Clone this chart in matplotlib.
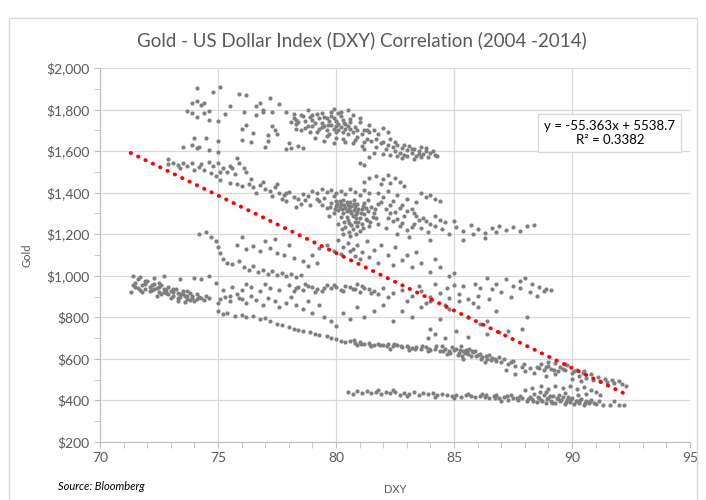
import numpy as np
import matplotlib
matplotlib.use('Agg')
import matplotlib.pyplot as plt
from matplotlib.ticker import MultipleLocator, FuncFormatter
from matplotlib.patches import Rectangle

plt.rcParams['font.family'] = ['Lato', 'DejaVu Sans']

# (DXY, Gold) pairs, grouped by the visible bands

# lowest band, gold ~ $400
low_band = [
    (80.5, 440), (80.7, 432), (80.9, 446), (81.1, 438), (81.3, 445), (81.5, 436), (81.7, 441), (81.9, 430),
    (82.1, 443), (82.3, 435), (82.5, 440), (82.7, 428), (82.9, 437), (83.1, 432), (83.3, 440), (83.5, 426),
    (83.7, 434), (83.9, 429), (84.1, 436), (84.3, 424), (84.5, 431), (84.7, 427), (84.9, 420), (85.1, 428),
    (85.3, 418), (85.5, 425), (85.7, 421), (85.9, 415), (86.1, 423), (86.3, 417), (86.5, 412), (86.7, 420),
    (86.9, 410), (87.1, 416), (87.3, 404), (87.5, 413), (87.7, 400), (87.9, 410), (88.1, 396), (88.3, 406),
    (88.5, 392), (88.7, 402), (88.9, 389), (89.1, 398), (89.3, 386), (89.5, 395), (89.7, 384), (89.9, 392),
    (90.1, 382), (90.3, 390), (90.5, 380), (90.7, 386), (91.0, 383), (91.3, 378), (91.6, 380), (92.0, 376),
    (87.4, 425), (87.8, 420), (88.2, 418), (88.4, 430), (88.6, 412), (88.8, 425), (89.0, 410), (89.2, 420),
    (89.4, 405), (89.6, 415), (89.8, 400), (90.0, 410), (90.2, 398), (90.4, 405), (90.6, 395), (90.8, 400),
    (88.0, 450), (88.3, 462), (88.7, 470), (89.0, 455), (89.3, 468), (89.6, 460), (89.9, 470), (90.2, 455),
    (90.5, 465), (90.8, 450), (91.0, 440), (91.2, 425), (88.9, 440), (89.7, 435), (90.6, 430), (86.2, 432),
    (86.8, 428), (85.0, 410), (84.2, 415), (83.0, 420), (81.8, 452), (82.4, 450), (85.6, 433), (87.0, 395),
    (91.8, 395), (92.2, 380),
]
low_core = [
    (88.15, 405), (88.35, 398), (88.55, 415), (88.75, 395), (88.95, 405), (89.15, 390), (89.35, 412),
    (89.55, 400), (89.75, 392), (89.95, 405), (90.15, 395), (90.35, 402), (90.55, 388), (90.75, 395),
    (90.95, 390), (91.15, 395), (89.05, 420), (89.45, 425), (89.85, 418), (90.25, 425), (88.65, 440),
    (87.65, 410), (87.25, 420), (86.75, 414), (86.35, 425),
]

# descending band from ~$830 at DXY 75 down to ~$470 at DXY 92
lower_mid = [
    (75.0, 830), (75.2, 815), (75.4, 822), (75.7, 808), (76.0, 812), (76.2, 800), (76.5, 805), (76.8, 792),
    (77.0, 798), (77.2, 780), (77.5, 770), (77.7, 762), (78.0, 752), (78.2, 745), (78.4, 740), (78.6, 733),
    (78.9, 728), (79.1, 722), (79.3, 715), (79.6, 710), (79.8, 702), (80.0, 695), (80.2, 688), (80.4, 682),
    (80.6, 686), (80.8, 678), (81.0, 680), (81.2, 672), (81.4, 676), (81.6, 668), (81.8, 674), (82.0, 665),
    (82.2, 670), (82.4, 660), (82.6, 668), (82.8, 655), (83.0, 662), (83.2, 652), (83.4, 658), (83.6, 648),
    (83.8, 655), (84.0, 645), (84.2, 650), (84.4, 640), (84.6, 648), (84.8, 636), (85.0, 642), (85.2, 630),
    (85.4, 638), (85.6, 625), (85.8, 632), (86.0, 618), (86.2, 610), (86.4, 600), (86.6, 605), (86.8, 590),
    (87.0, 584), (87.3, 575), (87.6, 568), (87.9, 560), (88.2, 555), (88.5, 560), (88.8, 548), (89.1, 552),
    (89.4, 540), (89.7, 545), (90.0, 530), (90.3, 520), (90.6, 510), (90.9, 500), (91.2, 495), (91.5, 490),
    (91.8, 485), (92.1, 478), (92.3, 470),
    (80.9, 668), (81.5, 660), (82.3, 650), (83.1, 645), (83.9, 638), (84.5, 660), (84.9, 655), (85.1, 650),
    (85.3, 660), (85.5, 645), (85.7, 612), (85.9, 640), (86.1, 625), (86.5, 620), (86.9, 610), (84.7, 625),
    (85.4, 600), (86.3, 585), (87.1, 600), (87.5, 590), (88.0, 540), (88.4, 530), (88.7, 575), (89.0, 565),
    (89.5, 560), (89.8, 570), (90.2, 548), (90.5, 540), (90.8, 525), (91.1, 515), (91.4, 505), (91.7, 500),
    (92.0, 495), (90.0, 505), (90.4, 495), (89.3, 525), (88.9, 520), (87.6, 525), (87.2, 548),
    (84.0, 745), (84.2, 720), (84.6, 700), (85.1, 735), (83.9, 700), (86.1, 770), (86.4, 720), (85.6, 705),
    (86.9, 730), (87.3, 735), (87.9, 745), (88.1, 800),
]
lower_mid_core = [
    (85.15, 620), (85.35, 615), (85.55, 635), (85.75, 640), (85.95, 615), (86.15, 600), (86.35, 615),
    (86.55, 595), (86.75, 600), (85.25, 645), (85.45, 628), (85.65, 650), (84.85, 630), (84.55, 640),
    (84.25, 660), (83.95, 648), (83.65, 660), (83.35, 650), (83.05, 655), (82.75, 662), (82.45, 672),
    (82.15, 660), (81.85, 665), (81.45, 668), (81.05, 672), (80.75, 690), (89.25, 545), (89.6, 550),
    (90.1, 540), (90.45, 530), (88.6, 555), (88.9, 560), (87.95, 575), (87.4, 585), (89.0, 585),
    (89.3, 580), (89.7, 575),
]

# scattered points between $750 and $900
mid_band = [
    (75.0, 870), (75.3, 900), (75.5, 880), (75.8, 910), (76.0, 890), (76.2, 870), (76.4, 905), (76.6, 885),
    (76.9, 860), (77.1, 895), (77.4, 880), (77.6, 850), (77.9, 870), (78.1, 900), (78.3, 860), (78.6, 840),
    (78.8, 880), (79.0, 820), (79.3, 860), (79.5, 800), (79.8, 780), (80.0, 760), (80.3, 820), (80.6, 790),
    (80.9, 850), (81.2, 800), (81.6, 830), (82.0, 860), (82.4, 780), (82.8, 830), (83.2, 800), (83.6, 850),
    (84.0, 880), (84.4, 790), (84.8, 840), (85.2, 880), (85.6, 800), (86.0, 850), (86.4, 780), (86.8, 830),
]

# band around $900 - $1,000
band_900 = [
    (71.3, 920), (71.4, 1000), (71.5, 965), (71.6, 940), (71.7, 995), (71.8, 955), (71.9, 935), (72.0, 975),
    (72.1, 948), (72.2, 930), (72.3, 960), (72.4, 942), (72.5, 920), (72.6, 955), (72.7, 935), (72.8, 915),
    (72.9, 945), (73.0, 925), (73.1, 905), (73.2, 935), (73.3, 915), (73.4, 900), (73.5, 925), (73.6, 905),
    (73.7, 890), (73.8, 915), (73.9, 895), (74.0, 880), (74.2, 900), (74.4, 885), (71.6, 985), (71.9, 960),
    (72.2, 955), (72.5, 945), (72.8, 930), (73.1, 920), (73.4, 910), (73.7, 905), (74.1, 890), (72.6, 910),
    (73.0, 895), (73.3, 880), (73.6, 875), (74.6, 895), (75.1, 890), (75.5, 905), (75.9, 895), (72.3, 990),
    (72.7, 1000), (74.0, 990), (74.3, 985), (74.6, 1000), (74.9, 965), (73.4, 985),
    (75.2, 930), (75.6, 945), (76.0, 930), (76.4, 945), (76.8, 925), (77.2, 940), (77.6, 930), (78.0, 955),
    (78.4, 945), (78.8, 950), (79.2, 935), (79.6, 955), (80.0, 945), (80.4, 950), (80.8, 935), (81.2, 940),
    (81.6, 925), (82.0, 940), (82.4, 915), (82.8, 930), (83.2, 905), (83.6, 925), (84.0, 900), (84.4, 915),
    (84.8, 895), (85.2, 910), (85.6, 890), (86.0, 905), (78.2, 925), (78.6, 930), (79.0, 945), (79.4, 925),
    (79.8, 940), (80.2, 930), (80.6, 945), (81.0, 920), (81.4, 935), (82.2, 900), (83.0, 880), (83.8, 870),
    (84.6, 860), (77.0, 960), (76.2, 960), (80.9, 960), (81.8, 910),
    (86.4, 990), (86.8, 960), (87.2, 985), (87.5, 950), (87.8, 975), (88.0, 990), (88.3, 960), (88.6, 945),
    (88.9, 935), (89.1, 930), (86.6, 935), (87.0, 920), (87.4, 900), (87.8, 940), (88.2, 920), (88.5, 905),
    (85.4, 950), (85.9, 960), (86.1, 940), (84.7, 940), (85.0, 955), (84.2, 960), (83.5, 950), (88.8, 925),
    (86.5, 890), (85.8, 870),
]
band_900_core = [
    (71.5, 945), (71.7, 930), (71.9, 975), (72.1, 925), (72.3, 935), (72.5, 965), (72.7, 920), (72.9, 910),
    (73.1, 935), (73.3, 895), (73.5, 910), (73.7, 925), (73.9, 905), (74.1, 910), (74.3, 895), (71.4, 955),
    (71.8, 920), (72.4, 905), (73.8, 885), (74.5, 905), (78.3, 940), (78.7, 960), (79.1, 920), (79.5, 940),
    (79.9, 955), (80.3, 925), (80.7, 935), (81.1, 950), (81.5, 915),
]

# band around $1,000 - $1,200
band_1100 = [
    (74.2, 1200), (74.5, 1210), (74.7, 1185), (74.9, 1165), (75.0, 1140), (75.1, 1110), (75.2, 1080),
    (75.4, 1060), (75.6, 1055), (75.9, 1070), (76.1, 1040), (76.3, 1030), (76.5, 1045), (76.7, 1020),
    (76.9, 1030), (77.1, 1010), (77.3, 1025), (77.5, 1005), (77.7, 1015), (77.9, 1000), (78.1, 1010),
    (78.3, 995), (78.5, 1005), (75.8, 1150), (76.2, 1130), (76.5, 1145), (76.8, 1120), (77.2, 1135),
    (77.5, 1110), (77.8, 1100), (78.2, 1085), (78.6, 1070), (79.0, 1100), (79.3, 1135), (79.6, 1150),
    (79.9, 1120), (80.1, 1170), (80.3, 1140), (80.5, 1160), (80.7, 1130), (80.9, 1150), (81.1, 1115),
    (81.3, 1165), (81.6, 1125), (81.9, 1150), (82.2, 1100), (82.5, 1140), (80.2, 1105), (80.6, 1120),
    (80.8, 1095), (81.0, 1080), (81.4, 1090), (81.8, 1060), (82.4, 1050), (82.8, 1075), (83.2, 1040),
    (83.6, 1060), (84.0, 1020), (84.4, 1040), (84.8, 1000), (85.0, 1015), (79.2, 1060), (78.8, 1045),
    (83.0, 1100), (83.4, 1115), (84.2, 1080), (76.0, 1185), (77.0, 1165), (78.0, 1150), (77.4, 1175),
]

# band around $1,200 - $1,550
band_1300 = [
    (72.9, 1560), (72.9, 1540), (73.1, 1545), (73.3, 1535), (73.5, 1545), (73.7, 1530), (73.9, 1545),
    (74.0, 1510), (74.2, 1525), (74.4, 1510), (74.6, 1550), (74.8, 1530), (75.0, 1545), (75.1, 1500),
    (75.2, 1520), (75.4, 1500), (75.6, 1520), (75.8, 1565), (75.9, 1545), (76.1, 1520), (75.7, 1490),
    (75.1, 1460), (74.9, 1480), (76.2, 1500), (73.4, 1520), (74.3, 1540), (74.7, 1495), (75.5, 1530),
    (75.5, 1445), (75.8, 1440), (76.0, 1430), (76.3, 1440), (76.5, 1425), (76.8, 1435), (77.0, 1420),
    (77.2, 1410), (77.4, 1425), (77.6, 1400), (77.8, 1390), (78.0, 1405), (78.2, 1380), (78.4, 1370),
    (78.6, 1395), (78.8, 1385), (79.0, 1410), (79.2, 1400), (79.4, 1420), (79.6, 1405), (79.8, 1415),
    (80.0, 1400), (80.2, 1410), (80.4, 1395), (80.6, 1420), (80.8, 1405), (81.0, 1390), (81.2, 1415),
    (81.4, 1400), (76.6, 1400), (77.3, 1385), (77.9, 1360), (78.5, 1345), (78.9, 1340), (79.3, 1360),
    (78.3, 1330), (77.7, 1370),
    (79.4, 1340), (79.6, 1325), (79.8, 1350), (80.0, 1335), (80.1, 1315), (80.2, 1345), (80.3, 1300),
    (80.4, 1325), (80.5, 1340), (80.6, 1310), (80.7, 1290), (80.8, 1330), (80.9, 1305), (81.0, 1280),
    (81.1, 1320), (81.2, 1295), (81.3, 1270), (80.0, 1360), (80.3, 1365), (80.6, 1355), (80.9, 1345),
    (81.2, 1350), (79.9, 1300), (80.2, 1285), (80.5, 1270), (80.8, 1260), (81.1, 1250), (81.4, 1240),
    (80.1, 1250), (80.4, 1235), (80.7, 1225), (81.0, 1215), (80.3, 1200), (80.6, 1190), (79.7, 1290),
    (80.9, 1240), (81.5, 1330), (81.6, 1300), (81.7, 1280), (81.8, 1345), (80.45, 1310), (80.65, 1335),
    (80.15, 1330), (80.85, 1280), (81.05, 1300), (81.25, 1325), (80.55, 1255), (80.75, 1315), (79.5, 1375),
    (79.9, 1385),
    (81.4, 1470), (81.7, 1480), (82.0, 1465), (82.2, 1485), (82.5, 1470), (82.7, 1450), (82.3, 1445),
    (82.9, 1430), (81.9, 1440), (81.2, 1450),
    (81.8, 1400), (82.0, 1380), (82.2, 1410), (82.4, 1360), (82.6, 1390), (82.8, 1340), (83.0, 1370),
    (83.2, 1320), (83.4, 1355), (83.6, 1400), (83.8, 1380), (84.0, 1390), (84.2, 1370), (84.4, 1360),
    (82.1, 1320), (82.5, 1305), (82.9, 1290), (83.3, 1300), (83.7, 1280), (82.3, 1340), (82.7, 1325),
    (81.9, 1355),
    (81.8, 1250), (82.1, 1230), (82.4, 1265), (82.7, 1240), (83.0, 1220), (83.3, 1250), (83.6, 1230),
    (83.9, 1210), (84.2, 1240), (84.5, 1225), (84.8, 1200), (85.1, 1235), (85.4, 1215), (85.7, 1245),
    (86.0, 1225), (86.3, 1205), (86.6, 1230), (86.9, 1240), (87.2, 1220), (87.5, 1235), (87.8, 1215),
    (88.1, 1240), (88.4, 1245), (82.6, 1200), (83.1, 1185), (84.0, 1170), (85.4, 1170), (86.3, 1180),
    (84.6, 1260), (85.0, 1265), (85.8, 1200), (86.8, 1210), (82.2, 1280), (83.5, 1270),
]
band_1300_core = [
    (80.05, 1345), (80.25, 1320), (80.35, 1340), (80.55, 1325), (80.65, 1300), (80.75, 1345), (80.95, 1320),
    (81.15, 1335), (81.35, 1310), (80.45, 1285), (80.85, 1295), (81.25, 1275), (80.95, 1260), (80.65, 1245),
    (80.35, 1260), (80.25, 1225), (80.55, 1210), (80.85, 1200), (81.15, 1230), (81.45, 1260), (81.55, 1285),
    (81.65, 1320), (79.75, 1330), (79.95, 1320), (80.15, 1360), (80.45, 1355), (80.75, 1365), (81.35, 1365),
    (82.3, 1300), (82.6, 1275), (83.0, 1310), (83.4, 1290), (83.8, 1265), (84.2, 1290), (82.8, 1255),
    (83.2, 1235), (84.0, 1250), (84.4, 1270), (79.2, 1370), (78.7, 1365), (77.9, 1400), (77.5, 1440),
    (76.9, 1450), (76.4, 1465),
]

# top band, $1,550 - $1,900
band_1700 = [
    (74.1, 1904), (74.8, 1885), (75.1, 1910), (75.9, 1875), (76.2, 1870), (77.2, 1856), (76.8, 1832),
    (76.6, 1818), (76.9, 1798), (77.6, 1825), (73.7, 1793), (73.9, 1782), (74.4, 1782), (74.6, 1793),
    (74.1, 1765), (74.6, 1750), (75.0, 1745), (75.5, 1817), (76.1, 1790), (76.6, 1774), (76.9, 1790),
    (77.3, 1790), (76.2, 1726), (76.0, 1706), (76.5, 1688), (77.3, 1720), (77.5, 1683), (77.1, 1678),
    (77.1, 1649), (76.4, 1644), (76.0, 1652), (77.0, 1620), (77.9, 1610), (78.1, 1617), (77.9, 1787),
    (78.2, 1779), (78.3, 1730), (78.3, 1706), (78.1, 1740), (73.5, 1620), (73.9, 1630), (74.1, 1613),
    (74.2, 1620), (74.0, 1663), (74.5, 1663), (74.6, 1605), (75.0, 1650), (75.0, 1598), (73.9, 1830),
    (74.4, 1830), (74.1, 1840), (74.3, 1820), (75.3, 1780), (77.4, 1700),
    (78.2, 1760), (78.4, 1740), (78.6, 1770), (78.8, 1720), (79.0, 1750), (79.2, 1780), (79.4, 1735),
    (79.6, 1760), (79.8, 1790), (80.0, 1745), (80.2, 1770), (80.4, 1730), (80.6, 1755), (80.8, 1715),
    (81.0, 1740), (81.2, 1700), (81.4, 1725), (78.5, 1700), (78.9, 1690), (79.3, 1705), (79.7, 1680),
    (80.1, 1700), (80.5, 1680), (80.9, 1670), (81.3, 1660), (79.1, 1665), (79.5, 1650), (79.9, 1640),
    (80.3, 1660), (80.7, 1640), (81.1, 1625), (79.0, 1720), (79.4, 1715), (79.8, 1725), (80.2, 1715),
    (80.6, 1705), (79.6, 1700), (80.0, 1690), (80.4, 1705), (79.5, 1765), (79.9, 1760), (80.3, 1750),
    (80.7, 1775), (78.7, 1745), (80.5, 1800), (79.9, 1805), (80.1, 1785), (81.6, 1700), (81.8, 1680),
    (82.0, 1710), (82.2, 1690), (81.5, 1650), (81.9, 1640), (82.3, 1660), (81.7, 1620), (82.1, 1610),
    (82.4, 1620), (82.5, 1600), (82.6, 1630), (82.7, 1590), (82.8, 1615), (82.9, 1580), (83.0, 1605),
    (83.1, 1625), (83.2, 1590), (83.3, 1610), (83.4, 1575), (83.5, 1600), (83.6, 1620), (83.7, 1585),
    (83.8, 1600), (83.9, 1570), (84.0, 1590), (84.2, 1580), (82.3, 1580), (82.8, 1565), (83.3, 1560),
    (82.0, 1585), (81.6, 1590), (81.4, 1570), (81.2, 1610), (81.0, 1545), (81.2, 1535), (78.0, 1640),
    (78.4, 1625), (78.6, 1615),
]
band_1700_core = [
    (78.3, 1750), (78.5, 1775), (78.7, 1710), (78.9, 1765), (79.1, 1735), (79.3, 1760), (79.5, 1720),
    (79.7, 1745), (79.9, 1705), (80.1, 1730), (80.3, 1690), (80.5, 1720), (80.7, 1690), (80.9, 1700),
    (81.1, 1680), (81.3, 1700), (79.2, 1690), (79.6, 1675), (80.0, 1665), (80.4, 1645), (80.8, 1655),
    (81.2, 1645), (79.8, 1770), (80.2, 1790), (80.6, 1740), (81.0, 1760), (81.4, 1690), (81.7, 1660),
    (82.0, 1645), (82.2, 1630), (82.5, 1645), (82.9, 1630), (83.2, 1610), (83.5, 1585), (83.0, 1575),
    (82.6, 1575), (83.8, 1615), (84.1, 1600), (84.3, 1575), (83.6, 1570), (79.0, 1775), (79.4, 1785),
    (78.8, 1800), (80.0, 1720), (80.35, 1735), (79.65, 1725),
]

# Excel linear trendline shown on the chart
slope = -55.363
intercept = 5538.7
r_squared = 0.3382

groups = [low_band, low_core, lower_mid, lower_mid_core, mid_band, band_900, band_900_core,
          band_1100, band_1300, band_1300_core, band_1700, band_1700_core]
points = np.array([p for g in groups for p in g])
dxy = points[:, 0]
gold = points[:, 1]

fig = plt.figure(figsize=(7.06, 5.0), dpi=100)
ax = fig.add_axes([100/706, 1-442/500, 590/706, 374/500])

ax.scatter(dxy, gold, s=9, color='#7f7f7f', linewidths=0, zorder=3)

xfit = np.array([dxy.min(), dxy.max()])
ax.plot(xfit, slope*xfit + intercept, color='#ff0000', lw=2.8,
        linestyle=(0, (0.1, 2.0)), dash_capstyle='round', zorder=4)

ax.set_xlim(70, 95)
ax.set_ylim(200, 2000)
ax.xaxis.set_major_locator(MultipleLocator(5))
ax.xaxis.set_minor_locator(MultipleLocator(1))
ax.yaxis.set_major_locator(MultipleLocator(200))
ax.yaxis.set_minor_locator(MultipleLocator(100))
ax.yaxis.set_major_formatter(FuncFormatter(lambda v, p: '${:,.0f}'.format(v)))
ax.grid(True, which='major', color='#d9d9d9', lw=0.9, zorder=0)
ax.set_axisbelow(True)
for s in ['top', 'right']:
    ax.spines[s].set_visible(False)
for s in ['left', 'bottom']:
    ax.spines[s].set_color('#bfbfbf')
ax.tick_params(which='both', direction='out', length=4, color='#bfbfbf',
               labelcolor='#595959', labelsize=10)

ax.set_ylabel('Gold', fontsize=8, color='#595959', labelpad=10)
ax.set_xlabel('DXY', fontsize=8, color='#595959', labelpad=14)

ax.text(91.6, 1687, 'y = -55.363x + 5538.7\nR² = {:.4f}'.format(r_squared),
        ha='center', va='center', fontsize=9.5, color='#000000',
        bbox=dict(boxstyle='square,pad=0.45', fc='white', ec='#d9d9d9'), zorder=5)

fig.text(0.512, 1-40/500, 'Gold - US Dollar Index (DXY) Correlation (2004 -2014)',
         ha='center', va='center', fontsize=13.5, color='#595959')
fig.text(58/706, 1-487/500, 'Source: Bloomberg', ha='left', va='center',
         fontsize=8, style='italic', color='#000000')

fig.patches.append(Rectangle((9/706, -0.02), 688/706, 1.02-18/500, transform=fig.transFigure,
                             fill=False, ec='#d9d9d9', lw=1))

fig.savefig('out.png', dpi=100)
